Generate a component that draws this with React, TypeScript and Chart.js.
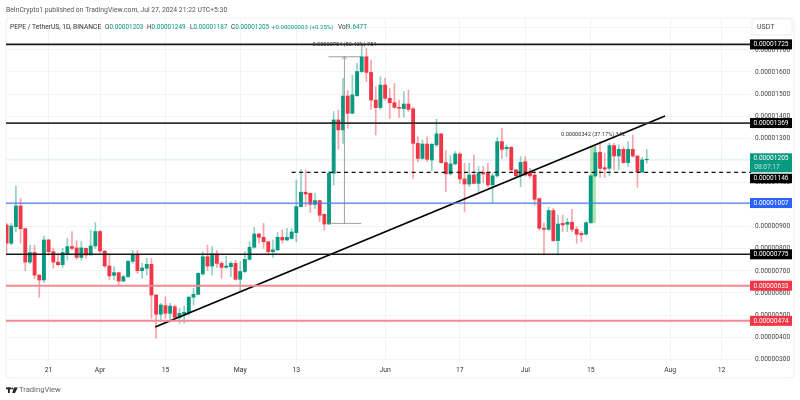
import React, { useEffect, useRef } from "react";
import { Chart, registerables } from "chart.js";

Chart.register(...registerables);

// All prices in units of 0.00000001 USDT. Day index 0 = Mar 12, 2024.
const opens = [908,825,900,994,891,740,783,681,659,840,787,740,728,777,810,804,761,802,772,813,878,790,722,680,692,654,674,743,774,701,712,730,591,504,543,508,538,490,505,511,581,594,686,764,722,777,734,716,719,734,662,697,752,807,867,852,832,787,795,852,840,847,873,991,1056,1051,1001,1018,956,912,1142,1383,1338,1491,1413,1493,1602,1669,1598,1473,1439,1541,1481,1461,1440,1434,1455,1433,1277,1209,1274,1202,1270,1320,1190,1139,1184,1229,1116,1093,1134,1096,1145,1145,1089,1130,1285,1253,1259,1157,1130,1194,1145,1134,1027,893,888,973,837,915,911,920,888,870,866,918,1130,1237,1167,1164,1267,1220,1250,1190,1250,1220,1148,1203];
const highs = [915,915,1084,1028,893,817,817,683,858,843,802,777,802,847,878,837,832,804,885,918,882,792,777,719,694,681,749,792,792,734,757,757,593,553,583,553,546,531,541,584,621,692,787,817,810,792,742,767,742,749,742,787,832,897,870,915,835,840,873,885,893,893,1111,1157,1157,1054,1051,1021,958,1149,1421,1428,1571,1516,1586,1639,1722,1707,1654,1534,1579,1571,1526,1549,1473,1511,1519,1440,1307,1292,1307,1277,1386,1323,1244,1224,1240,1235,1187,1187,1224,1172,1172,1187,1142,1304,1345,1270,1262,1160,1217,1217,1164,1149,1029,918,988,983,953,953,938,979,900,878,923,1134,1265,1285,1232,1277,1277,1270,1262,1285,1315,1222,1214,1249];
const lows = [772,817,878,825,701,734,666,580,647,772,712,722,716,749,795,752,749,757,775,802,783,716,659,659,632,651,671,734,689,666,681,485,395,478,485,478,481,463,463,501,546,591,681,701,681,716,666,712,674,659,606,692,749,802,825,802,772,761,792,825,837,843,832,988,991,964,983,923,885,910,1089,1250,1277,1345,1411,1488,1598,1556,1431,1315,1431,1473,1390,1436,1395,1395,1421,1119,1194,1205,1194,1154,1262,1187,1059,1134,1179,1096,968,1081,1093,1059,1099,1081,1006,1123,1209,1217,1149,1126,1081,1129,1119,998,885,772,882,832,772,878,878,878,825,832,863,915,1126,1123,1123,1130,1157,1157,1187,1172,1214,1078,1145,1187];
const closes = [825,903,994,891,740,783,681,659,840,787,740,728,783,810,802,761,804,772,813,878,790,722,677,692,654,674,743,774,701,713,730,591,504,546,508,541,490,508,513,581,594,689,764,722,777,734,716,722,734,662,697,752,807,867,852,832,787,795,852,840,852,876,991,1056,1048,1001,1018,952,912,1142,1383,1338,1491,1413,1496,1602,1669,1598,1473,1439,1541,1481,1461,1440,1436,1455,1431,1277,1209,1274,1205,1273,1320,1190,1139,1184,1229,1116,1093,1134,1096,1145,1139,1089,1130,1285,1250,1259,1157,1130,1191,1134,1130,1024,893,888,973,837,912,908,920,888,866,863,918,1130,1235,1164,1161,1267,1220,1250,1190,1250,1220,1148,1202,1205];

const xTickDays = [9, 20, 34, 50, 62, 81, 97, 111, 125, 142, 153];
const xTickLabels = ["21", "Apr", "15", "May", "13", "Jun", "17", "Jul", "15", "Aug", "12"];
const yTickValues = [300,400,500,600,700,800,900,1000,1100,1200,1300,1400,1500,1600,1700,1800];

const levelPrices = [1725, 1369, 1007, 775, 633, 474];
const levelColors = ["#1a1a1a", "#333333", "#4a7ee8", "#1a1a1a", "#f48a8f", "#f48a8f"];
const levelTagColors = ["#000000", "#000000", "#2962ff", "#000000", "#f23645", "#f23645"];
const levelWidths = [1.8, 1.8, 1.3, 1.4, 2, 2];

const dashedLevel = 1146;
const dashedFromDay = 61;
const lastPrice = 1205;

const trendDays = [31.8, 140.9];
const trendPrices = [446, 1401];

const rangeDay = 72.3;
const rangeCapDays = [68.9, 75.9];
const rangePrices = [915, 1669];
const rangeLabel = "0.00000754 (82.42%) 754";

const shadeDay = 125.5;
const shadePrices = [918, 1260];
const shadeLabel = "0.00000342 (37.17%) 342";

const legendName = "PEPE / TetherUS, 1D, BINANCE";
const legendFields = [
  ["O", "0.00001203"],
  ["H", "0.00001249"],
  ["L", "0.00001187"],
  ["C", "0.00001205"],
];
const legendChange = "+0.00000003 (+0.25%)";
const legendVolume = "9.647T";

const X_MIN = -0.12;
const X_MAX = 159.3;
const UP = "#089981";
const DOWN = "#f23645";
const FONT = "Roboto, sans-serif";
const fmt = (v: number) => (v / 1e8).toFixed(8);

const days = opens.map((_, i) => i);

const overlayPlugin = {
  id: "overlay",
  beforeDraw(chart: any) {
    const { ctx } = chart;
    ctx.save();
    ctx.strokeStyle = "#eeeeee";
    ctx.lineWidth = 1;
    ctx.beginPath();
    ctx.roundRect(6, 18, 788, 360, 3);
    ctx.stroke();
    ctx.restore();
  },
  afterDraw(chart: any) {
    const { ctx, scales } = chart;
    const y = scales.y;
    const x = scales.x;
    ctx.save();
    ctx.textBaseline = "middle";

    // header
    ctx.font = `6.8px ${FONT}`;
    ctx.fillStyle = "#555555";
    ctx.textAlign = "left";
    ctx.fillText("BeInCrypto1 published on TradingView.com, Jul 27, 2024 21:22 UTC+5:30", 6, 10);

    ctx.font = `6.7px ${FONT}`;
    ctx.fillStyle = "#333333";
    ctx.fillText(legendName, 10, 27);
    ctx.font = `6.4px ${FONT}`;
    const fieldX = [105, 147, 190, 231];
    legendFields.forEach(([a, b], i) => {
      ctx.fillStyle = "#333333";
      ctx.fillText(a, fieldX[i], 27);
      ctx.fillStyle = UP;
      ctx.fillText(b, fieldX[i] + ctx.measureText(a).width, 27);
    });
    ctx.fillStyle = UP;
    ctx.font = `6.1px ${FONT}`;
    ctx.fillText(legendChange, 272, 27);
    ctx.font = `6.4px ${FONT}`;
    ctx.fillStyle = "#333333";
    ctx.fillText("Vol", 338, 27);
    ctx.fillStyle = UP;
    ctx.fillText(legendVolume, 338 + ctx.measureText("Vol").width, 27);

    // measurement labels
    ctx.font = `5.6px ${FONT}`;
    ctx.fillStyle = "#333333";
    ctx.textAlign = "center";
    ctx.fillText(rangeLabel, x.getPixelForValue(rangeDay), 44.5);
    ctx.fillText(shadeLabel, x.getPixelForValue(shadeDay), 134.5);

    // arrow on the range tool
    const ax = x.getPixelForValue(rangeDay);
    const ay = y.getPixelForValue(rangePrices[1]);
    ctx.strokeStyle = "#888888";
    ctx.lineWidth = 0.8;
    ctx.beginPath();
    ctx.moveTo(ax - 2.5, ay + 2.5);
    ctx.lineTo(ax, ay);
    ctx.lineTo(ax + 2.5, ay + 2.5);
    ctx.stroke();

    // USDT box
    ctx.fillStyle = "#ffffff";
    ctx.strokeStyle = "#e8e8e8";
    ctx.beginPath();
    ctx.roundRect(752, 19, 40, 16, 2);
    ctx.fill();
    ctx.stroke();
    ctx.fillStyle = "#444444";
    ctx.textAlign = "left";
    ctx.font = `7px ${FONT}`;
    ctx.fillText("USDT", 757, 27);

    // price tags
    const tag = (cy: number, bg: string, text: string, h = 10) => {
      ctx.fillStyle = bg;
      ctx.fillRect(750, cy - h / 2, 42, h);
      ctx.fillStyle = "#ffffff";
      ctx.textAlign = "center";
      ctx.font = `6.6px ${FONT}`;
      ctx.fillText(text, 771, cy + 0.3);
    };
    levelPrices.forEach((p, i) => tag(y.getPixelForValue(p), levelTagColors[i], fmt(p)));

    const py = y.getPixelForValue(lastPrice);
    ctx.fillStyle = UP;
    ctx.fillRect(750, py - 6, 42, 19);
    ctx.fillStyle = "#ffffff";
    ctx.textAlign = "center";
    ctx.font = `6.6px ${FONT}`;
    ctx.fillText(fmt(lastPrice), 771, py - 0.5);
    ctx.fillStyle = "#b5e3da";
    ctx.fillText("08:07:17", 767, py + 8);
    tag(178.5, "#000000", fmt(dashedLevel), 9.5);

    // footer logo
    ctx.fillStyle = "#222222";
    ctx.fillRect(6, 387.5, 5, 1.8);
    ctx.fillRect(8, 387.5, 1.8, 5.5);
    ctx.beginPath();
    ctx.arc(12.2, 388.5, 1, 0, Math.PI * 2);
    ctx.fill();
    ctx.beginPath();
    ctx.moveTo(14, 387.5);
    ctx.lineTo(17.8, 387.5);
    ctx.lineTo(15, 393);
    ctx.lineTo(12.2, 393);
    ctx.closePath();
    ctx.fill();
    ctx.fillStyle = "#666666";
    ctx.textAlign = "left";
    ctx.font = `7.6px ${FONT}`;
    ctx.fillText("TradingView", 19, 390);
    ctx.restore();
  },
};

const line = (points: { x: number; y: number }[], color: string, width: number, order: number, dash: number[] = []) => ({
  type: "line" as const,
  data: points,
  borderColor: color,
  borderWidth: width,
  borderDash: dash,
  pointRadius: 0,
  order,
  tension: 0,
});

export default function App() {
  const ref = useRef<HTMLCanvasElement>(null);
  useEffect(() => {
    const datasets: any[] = [
      ...levelPrices.map((p, i) =>
        line([{ x: X_MIN, y: p }, { x: X_MAX, y: p }], levelColors[i], levelWidths[i], 1)
      ),
      line([{ x: dashedFromDay, y: dashedLevel }, { x: X_MAX, y: dashedLevel }], "#111111", 1.1, 1, [4, 3.5]),
      line(trendDays.map((d, i) => ({ x: d, y: trendPrices[i] })), "#000000", 1.7, 1),
      line(rangePrices.map((p) => ({ x: rangeDay, y: p })), "#888888", 0.8, 1),
      line(rangeCapDays.map((d) => ({ x: d, y: rangePrices[0] })), "#888888", 0.8, 1),
      line(rangeCapDays.map((d) => ({ x: d, y: rangePrices[1] })), "#888888", 0.8, 1),
      {
        type: "bar",
        data: days.map((d) => ({ x: d, y: [opens[d], closes[d]] })),
        backgroundColor: days.map((d) => (closes[d] >= opens[d] ? UP : DOWN)),
        barThickness: 3.2,
        grouped: false,
        borderWidth: 0,
        order: 2,
      },
      {
        type: "bar",
        data: days.map((d) => ({ x: d, y: [lows[d], highs[d]] })),
        backgroundColor: days.map((d) => (closes[d] >= opens[d] ? "rgba(8,153,129,0.45)" : "rgba(242,54,69,0.45)")),
        barThickness: 1,
        grouped: false,
        borderWidth: 0,
        order: 3,
      },
      {
        type: "bar",
        data: [{ x: shadeDay, y: shadePrices }],
        backgroundColor: "rgba(76,200,80,0.45)",
        barThickness: 5,
        grouped: false,
        borderWidth: 0,
        order: 4,
      },
      line([{ x: X_MIN, y: lastPrice }, { x: X_MAX, y: lastPrice }], "rgba(8,153,129,0.12)", 1, 5),
    ];
    const chart = new Chart(ref.current!, {
      type: "bar",
      data: { datasets },
      plugins: [overlayPlugin],
      options: {
        animation: false,
        responsive: false,
        layout: { padding: { left: 6, top: 18, right: 6, bottom: 22 } },
        plugins: { legend: { display: false }, tooltip: { enabled: false } },
        scales: {
          x: {
            type: "linear",
            offset: false,
            min: X_MIN,
            max: X_MAX,
            afterBuildTicks: (s: any) => {
              s.ticks = xTickDays.map((v) => ({ value: v }));
            },
            afterFit: (s: any) => {
              s.height = 17;
            },
            grid: { color: "#f3f3f3", drawTicks: false, offset: false },
            border: { display: false },
            ticks: {
              autoSkip: false,
              maxRotation: 0,
              padding: 5,
              color: "#333333",
              font: { family: FONT, size: 6.8 },
              callback: (v: any) => xTickLabels[xTickDays.indexOf(Number(v))] ?? "",
            },
          },
          y: {
            type: "linear",
            position: "right",
            min: 292.3,
            max: 1844.3,
            afterBuildTicks: (s: any) => {
              s.ticks = yTickValues.map((v) => ({ value: v }));
            },
            afterFit: (s: any) => {
              s.width = 43;
            },
            grid: { color: "#f3f3f3", drawTicks: false },
            border: { display: false },
            ticks: {
              autoSkip: false,
              padding: 4,
              color: "#444444",
              font: { family: FONT, size: 6.6 },
              callback: (v: any) => fmt(Number(v)),
            },
          },
        },
      } as any,
    });
    return () => chart.destroy();
  }, []);
  return (
    <div style={{ position: "fixed", left: 0, top: 0, width: 800, height: 400, background: "#fff" }}>
      <canvas ref={ref} width={800} height={400} style={{ display: "block", width: 800, height: 400 }} />
    </div>
  );
}
